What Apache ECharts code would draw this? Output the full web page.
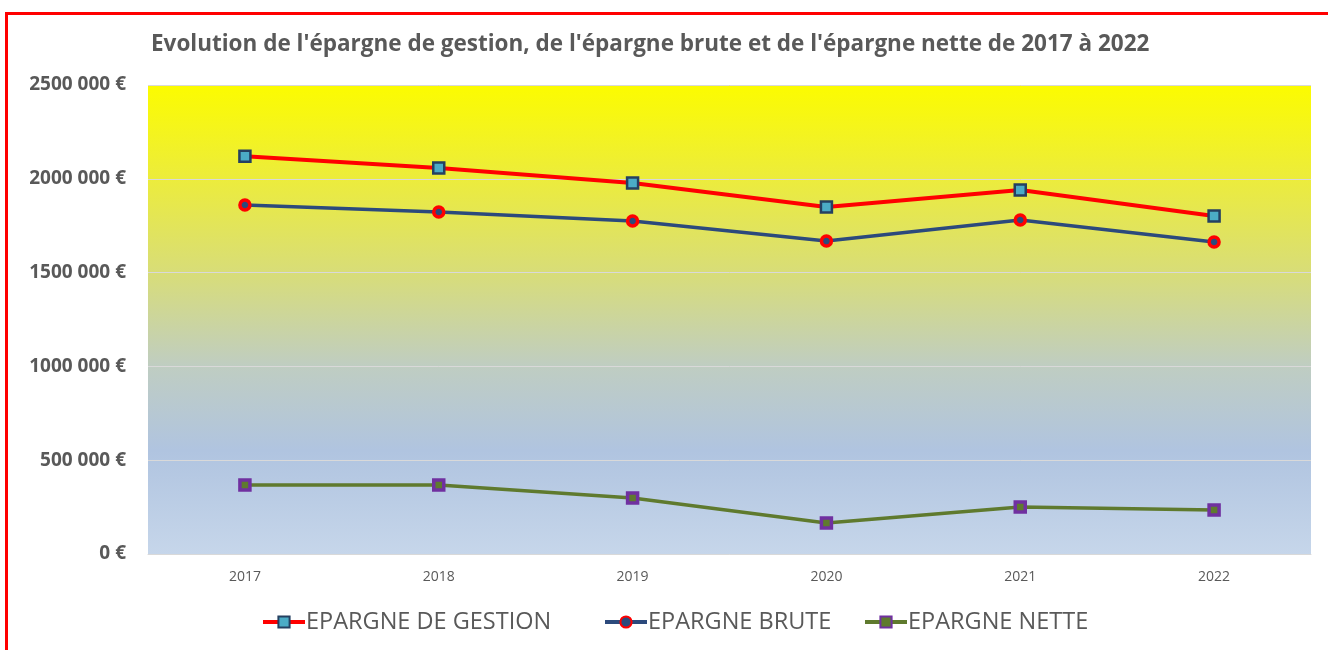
<!DOCTYPE html>
<html><head><meta charset="utf-8">
<script src="https://cdn.jsdelivr.net/npm/echarts@6/dist/echarts.min.js"></script>
<style>
html,body{margin:0;padding:0;background:#fff;overflow:hidden;}
#frame{position:absolute;left:5px;top:12px;width:1400px;height:700px;border:3px solid #ff0000;box-sizing:border-box;}
#c{position:absolute;left:0;top:0;width:1328px;height:650px;}
</style></head>
<body>
<div id="frame"></div>
<div id="c"></div>
<script>
const years = ['2017','2018','2019','2020','2021','2022'];
const epargneGestion = [2120000, 2058000, 1978000, 1850000, 1940000, 1802000];
const epargneBrute = [1860000, 1823000, 1775000, 1668000, 1780000, 1663000];
const epargneNette = [368000, 368000, 298000, 165000, 250000, 235000];
const yTicks = ['0 €','500 000 €','1000 000 €','1500 000 €','2000 000 €','2500 000 €'];
const seriesNames = ['EPARGNE DE GESTION','EPARGNE BRUTE','EPARGNE NETTE'];

const chart = echarts.init(document.getElementById('c'));
const txt = '#595959';
const font = 'Open Sans';
const lineColors = ['#FF0000','#2C4A7C','#5F7A2E'];
const legendLefts = [256, 598, 858];
chart.setOption({
  animation:false,
  title:{text:"Evolution de l'épargne de gestion, de l'épargne brute et de l'épargne nette de 2017 à 2022",
    left:146, top:28, textStyle:{fontFamily:font, fontSize:22.5, fontWeight:'bold', color:txt}},
  legend: seriesNames.map((n,i)=>({left:legendLefts[i], top:605, itemWidth:42, itemHeight:14,
    textStyle:{fontFamily:font, fontSize:23.5, color:txt, padding:[0,0,0,-4]},
    data:[{name:n, lineStyle:{width:4, color:lineColors[i]}}]})),
  grid:{left:148, right:17, top:85, bottom:96, show:true, borderWidth:0,
    backgroundColor:new echarts.graphic.LinearGradient(0,0,0,1,[
      {offset:0,color:'#FCFC00'},
      {offset:0.2,color:'#ECEC3C'},
      {offset:0.4,color:'#D8DD78'},
      {offset:0.6,color:'#BFCDC2'},
      {offset:0.78,color:'#B0C4E0'},
      {offset:1,color:'#C6D6EA'}])},
  xAxis:{type:'category', data:years, boundaryGap:true,
    axisLine:{show:true, lineStyle:{color:'#D9D9D9'}}, axisTick:{show:false},
    axisLabel:{fontFamily:font, fontSize:14, color:txt, margin:16}},
  yAxis:{type:'value', min:0, max:2500000, interval:500000,
    axisLine:{show:false}, axisTick:{show:false},
    splitLine:{lineStyle:{color:'#D9D9D9', width:1}},
    axisLabel:{fontFamily:font, fontSize:19, fontWeight:'bold', color:txt, margin:22,
      formatter:(v)=>yTicks[Math.round(v/500000)]}},
  series:[
    {name:seriesNames[0], type:'line', data:epargneGestion, symbol:'rect', symbolSize:11,
      lineStyle:{color:lineColors[0], width:4}, itemStyle:{color:'#4BACC6', borderColor:'#254061', borderWidth:2.5}, z:3},
    {name:seriesNames[1], type:'line', data:epargneBrute, symbol:'circle', symbolSize:10,
      lineStyle:{color:lineColors[1], width:3.5}, itemStyle:{color:'#2C4A7C', borderColor:'#FF0000', borderWidth:3.5}, z:2},
    {name:seriesNames[2], type:'line', data:epargneNette, symbol:'rect', symbolSize:10,
      lineStyle:{color:lineColors[2], width:3.5}, itemStyle:{color:'#5F7A2E', borderColor:'#7030A0', borderWidth:3.5}, z:2}
  ]
});
</script>
</body></html>
